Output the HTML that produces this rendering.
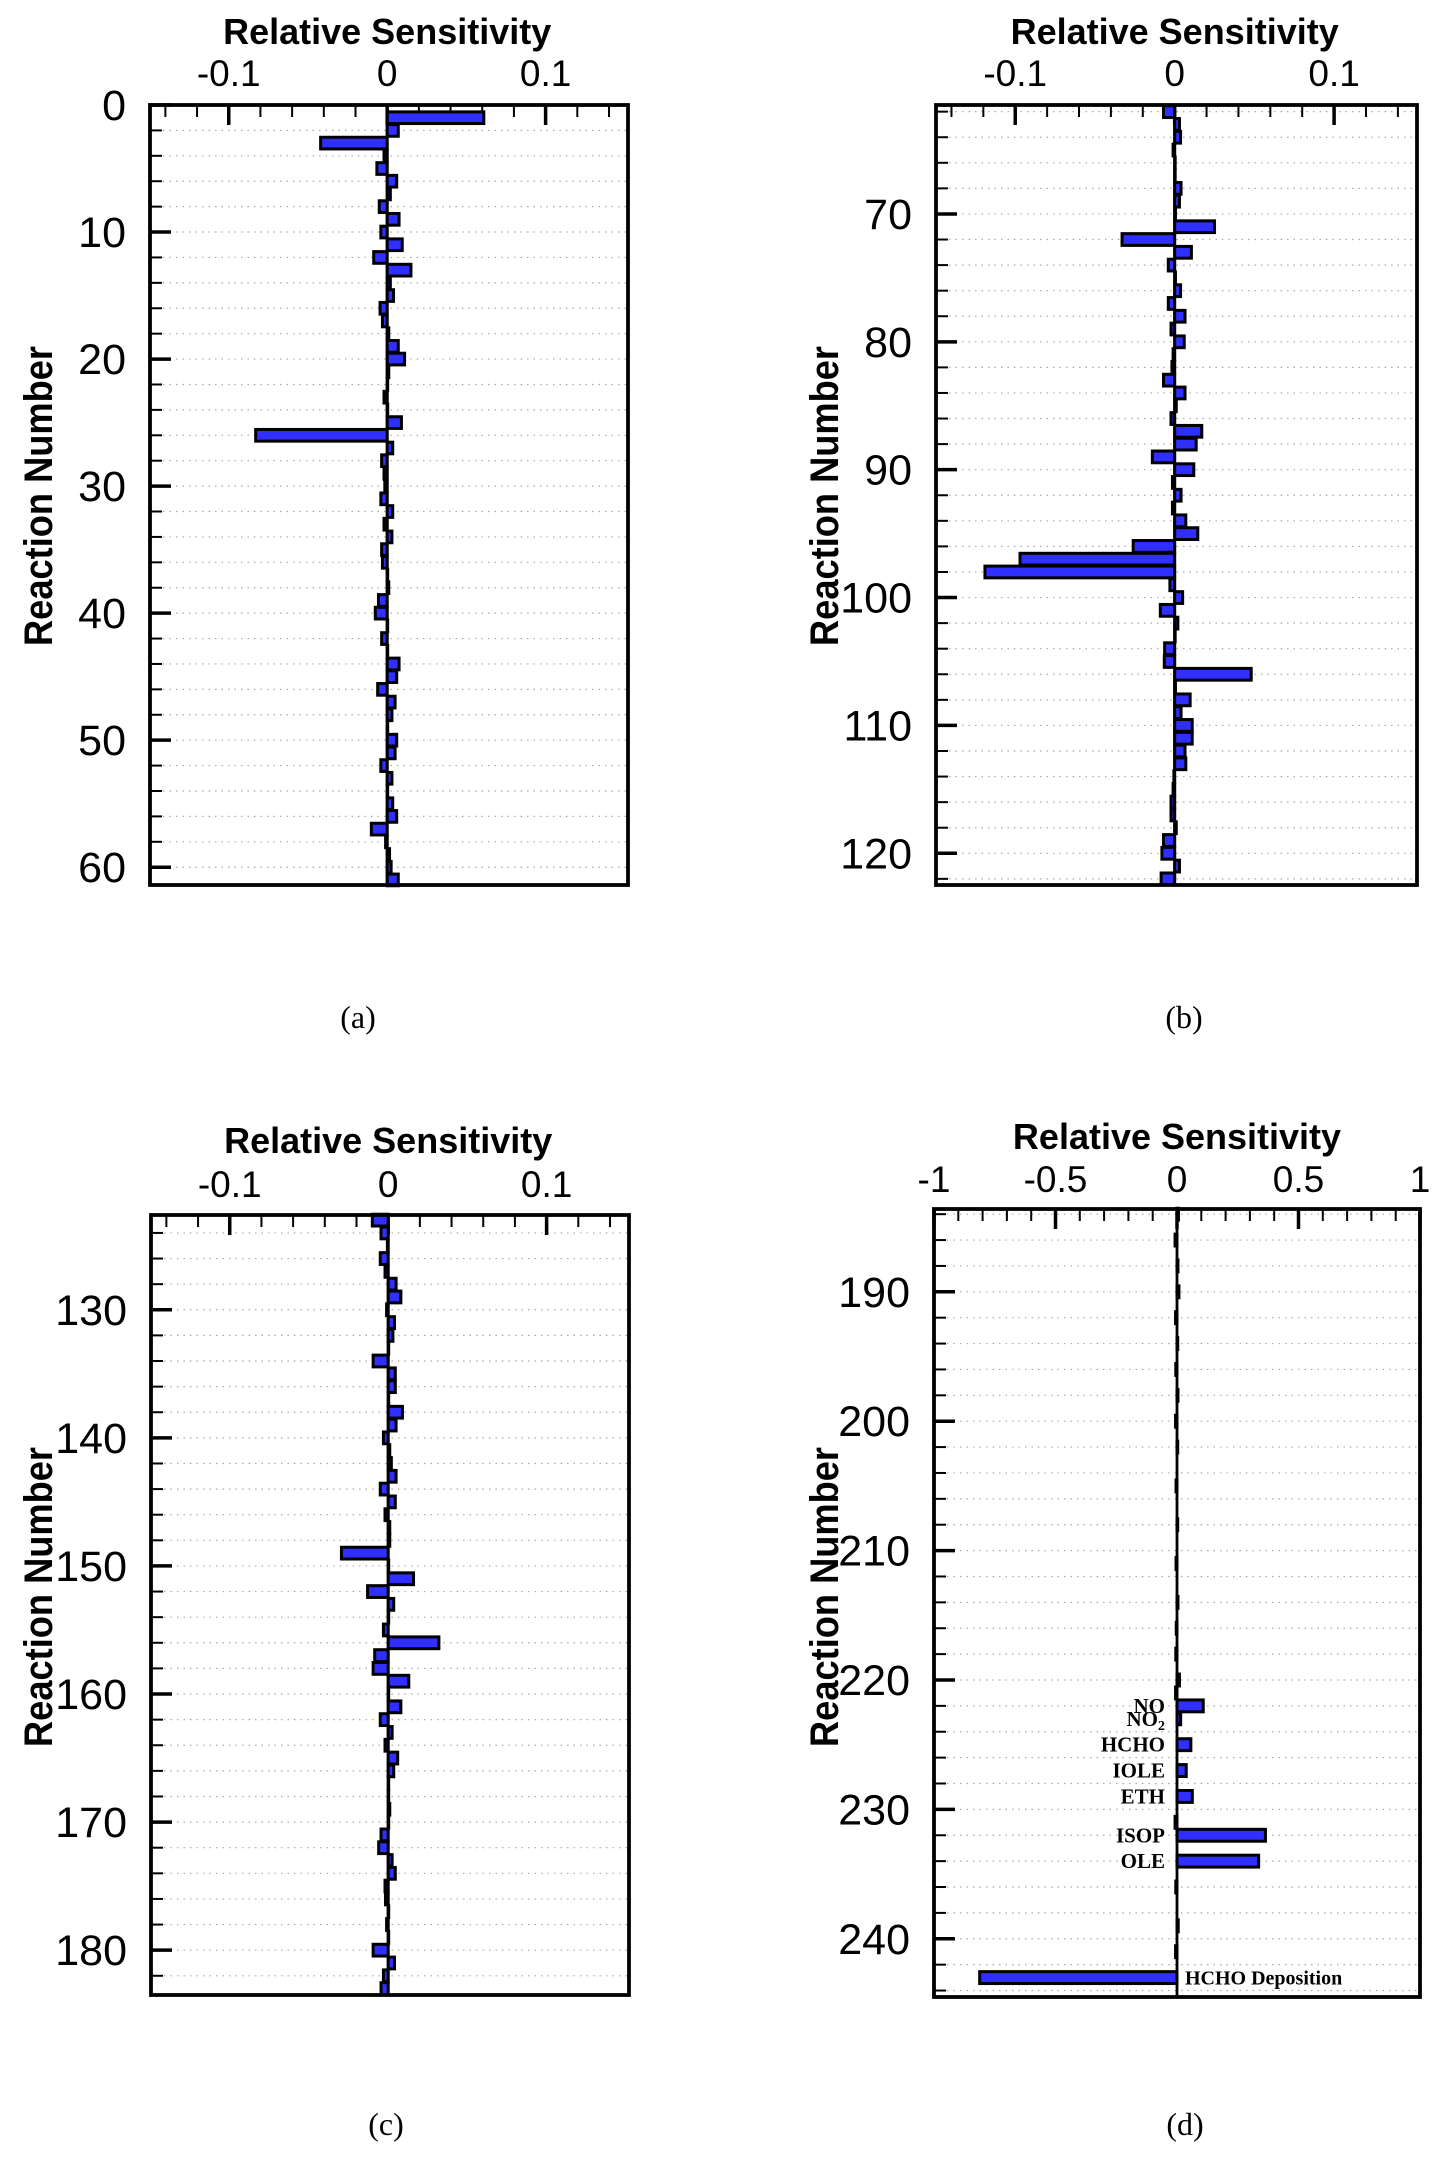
<!DOCTYPE html>
<html><head><meta charset="utf-8"><style>
html,body{margin:0;padding:0;background:#fff}
svg{display:block}
</style></head><body>
<svg id="fig" xmlns="http://www.w3.org/2000/svg" width="1439" height="2158" viewBox="0 0 1439 2158"></svg>
<script>
// ---- data ----
const reactionsA = [1,2,3,4,5,6,7,8,9,10,11,12,13,14,15,16,17,18,19,20,21,22,23,24,25,26,27,28,29,30,31,32,33,34,35,36,37,38,39,40,41,42,43,44,45,46,47,48,49,50,51,52,53,54,55,56,57,58,59,60,61];
const valuesA = [0.061,0.007,-0.042,-0.002,-0.0065,0.006,0.002,-0.005,0.0075,-0.004,0.0095,-0.0085,0.015,0.002,0.004,-0.0045,-0.003,0.001,0.007,0.011,0.001,0,-0.002,0,0.009,-0.083,0.0035,-0.0035,-0.002,-0.0015,-0.004,0.0035,-0.002,0.003,-0.0035,-0.003,0,0.001,-0.0055,-0.0075,0,-0.0035,0,0.0075,0.006,-0.006,0.005,0.003,0,0.006,0.005,-0.004,0.003,0,0.0035,0.006,-0.01,-0.001,0.0015,0.0025,0.007];
const reactionsB = [62,63,64,65,66,67,68,69,70,71,72,73,74,75,76,77,78,79,80,81,82,83,84,85,86,87,88,89,90,91,92,93,94,95,96,97,98,99,100,101,102,103,104,105,106,107,108,109,110,111,112,113,114,115,116,117,118,119,120,121,122];
const valuesB = [-0.007,0.003,0.0037,-0.001,0,0,0.004,0.003,0.0005,0.025,-0.033,0.0105,-0.004,0.0005,0.0037,-0.004,0.0065,-0.0023,0.006,-0.001,-0.0017,-0.007,0.0065,0.001,-0.0023,0.017,0.0135,-0.014,0.012,-0.0014,0.004,-0.0014,0.007,0.0145,-0.026,-0.097,-0.119,-0.003,0.005,-0.009,0.002,0,-0.0063,-0.0065,0.048,0.0005,0.0097,0.004,0.011,0.011,0.0065,0.007,-0.0005,-0.001,-0.0023,-0.0023,0.001,-0.007,-0.008,0.003,-0.0085];
const reactionsC = [123,124,125,126,127,128,129,130,131,132,133,134,135,136,137,138,139,140,141,142,143,144,145,146,147,148,149,150,151,152,153,154,155,156,157,158,159,160,161,162,163,164,165,166,167,168,169,170,171,172,173,174,175,176,177,178,179,180,181,182,183];
const valuesC = [-0.01,-0.0045,-0.0005,-0.005,-0.002,0.005,0.008,-0.001,0.004,0.003,0,-0.0095,0.0045,0.0045,0,0.009,0.005,-0.003,0.001,0.002,0.005,-0.005,0.0045,-0.002,0.001,0.001,-0.0295,0,0.016,-0.013,0.0035,0,-0.003,0.032,-0.0085,-0.0095,0.013,0,0.008,-0.005,0.0025,-0.002,0.006,0.0035,0,0,0.001,0,-0.0045,-0.006,0.0025,0.0045,-0.002,-0.0017,0,-0.001,0,-0.0095,0.004,-0.003,-0.0045];
const reactionsD = [184,186,188,190,192,194,196,198,200,202,205,208,211,214,216,218,220,221,222,223,225,227,229,231,232,234,236,239,241,243];
const valuesD = [0.006,-0.008,0.004,0.008,-0.006,0.003,-0.005,0.004,-0.006,0.003,-0.004,0.003,-0.004,0.004,-0.003,-0.005,0.01,-0.006,0.108,0.015,0.057,0.038,0.063,-0.008,0.364,0.336,-0.005,0.005,-0.006,-0.812];
const labelsD = {222:"NO",223:"NO2",225:"HCHO",227:"IOLE",229:"ETH",232:"ISOP",234:"OLE"};
const xTicksSmall = [-0.1,0,0.1];
const xTicksLarge = [-1,-0.5,0,0.5,1];
const xTickLabelsLarge = ["-1","-0.5","0","0.5","1"];

const NS="http://www.w3.org/2000/svg";
const svg=document.getElementById('fig');
function mk(tag,attrs,parent){const e=document.createElementNS(NS,tag);for(const k in attrs)e.setAttribute(k,attrs[k]);(parent||svg).appendChild(e);return e;}

const panels=[
 {id:'a',box:[150,105,628,885],x:[-0.1497,0.152],y:[0,61.4],cats:reactionsA,vals:valuesA,xt:xTicksSmall,xtl:["-0.1","0","0.1"],minor:0.02,cap:[358,1028],title:44,tick:86,rn:[38,496]},
 {id:'b',box:[936,105,1417,885],x:[-0.1497,0.152],y:[61.48,122.48],cats:reactionsB,vals:valuesB,xt:xTicksSmall,xtl:["-0.1","0","0.1"],minor:0.02,cap:[1184,1028],title:44,tick:86,rn:[824,496]},
 {id:'c',box:[151,1215,629,1995],x:[-0.1497,0.152],y:[122.6,183.5],cats:reactionsC,vals:valuesC,xt:xTicksSmall,xtl:["-0.1","0","0.1"],minor:0.02,cap:[386,2135],title:1153,tick:1197,rn:[38,1597]},
 {id:'d',box:[934,1209,1420,1997],x:[-1,1],y:[183.6,244.5],cats:reactionsD,vals:valuesD,xt:xTicksLarge,xtl:xTickLabelsLarge,minor:0.1,cap:[1185,2135],title:1149,tick:1192,rn:[824,1597]}
];

panels.forEach(p=>{
 const g=mk('g',{});
 
 
 const [L,T,R,B]=p.box;
 const sx=v=>L+(v-p.x[0])/(p.x[1]-p.x[0])*(R-L);
 const sy=v=>T+(v-p.y[0])/(p.y[1]-p.y[0])*(B-T);
 const y0=Math.ceil(p.y[0]/2)*2;
 for(let v=y0; v<=p.y[1]; v+=2){
  const yy=sy(v);
  const gl=mk('line',{x1:L,x2:R,y1:yy,y2:yy,stroke:'#aaa','stroke-width':1.2,'stroke-dasharray':'1.5 5'},g);
  
  
  const major=v%10===0;
  const tk=mk('line',{x1:L,x2:L+(major?21:12),y1:yy,y2:yy,stroke:'#000','stroke-width':major?3.5:2},g);
  
  
  if(major){
   const t=mk('text',{x:L-24,y:yy+15,'text-anchor':'end','font-family':'Liberation Sans, sans-serif','font-size':43},g);
   t.textContent=String(v);
   
   
  }
 }
 const s0=Math.ceil(p.x[0]/p.minor-1e-6);
 for(let i=s0;i*p.minor<=p.x[1]+1e-9;i++){
  const v=i*p.minor; const xx=sx(v);
  const major=p.xt.some(t=>Math.abs(t-v)<1e-9);
  const tk=mk('line',{x1:xx,x2:xx,y1:T,y2:T+(major?20:12),stroke:'#000','stroke-width':major?3.5:2},g);
  
  
 }
 p.xt.forEach((v,i)=>{
  const t=mk('text',{x:sx(v),y:p.tick,'text-anchor':'middle','font-family':'Liberation Sans, sans-serif','font-size':37},g);
  t.textContent=p.xtl[i];
  
  
 });
 const zl=mk('line',{x1:sx(0),x2:sx(0),y1:T,y2:B,stroke:'#000','stroke-width':2.8},g);
 
 
 const uh=(B-T)/(p.y[1]-p.y[0]);
 p.cats.forEach((c,i)=>{
  const v=p.vals[i];
  const x1=sx(Math.min(0,v)), x2=sx(Math.max(0,v));
  const yc=sy(c);
  const r=mk('rect',{x:x1,y:yc-uh*0.46,width:Math.max(x2-x1,0.5),height:uh*0.92,fill:'#2f2fff',stroke:'#000','stroke-width':3},g);
  
  
  if(p.id==='d' && labelsD[c]){
   const t=mk('text',{x:sx(0)-12,y:yc+7,'text-anchor':'end','font-family':'Liberation Serif, serif','font-weight':'bold','font-size':21},g);
   if(labelsD[c]==='NO2'){t.textContent='NO';const s=mk('tspan',{'font-size':14,dy:4},t);s.textContent='2';}
   else t.textContent=labelsD[c];
   
   
  }
  if(p.id==='d' && c===243){
   const t=mk('text',{x:sx(0)+8,y:yc+7,'font-family':'Liberation Serif, serif','font-weight':'bold','font-size':20},g);
   t.textContent='HCHO Deposition';
   
   
  }
 });
 const fr=mk('rect',{x:L,y:T,width:R-L,height:B-T,fill:'none',stroke:'#000','stroke-width':3.8},g);
 
 
 const tt=mk('text',{x:sx(0),y:p.title,'text-anchor':'middle','font-family':'Liberation Sans, sans-serif','font-weight':'bold','font-size':36},g);
 tt.textContent='Relative Sensitivity';
 
 
 const yt=mk('text',{x:0,y:0,'text-anchor':'middle','font-family':'Liberation Sans, sans-serif','font-weight':'bold','font-size':40,textLength:300,lengthAdjust:'spacingAndGlyphs',transform:`translate(${p.rn[0]+14},${p.rn[1]}) rotate(-90)`},g);
 yt.textContent='Reaction Number';
 
 
 const cp=mk('text',{x:p.cap[0],y:p.cap[1],'text-anchor':'middle','font-family':'Liberation Serif, serif','font-size':32},g);
 cp.textContent='('+p.id+')';
 
 
});
</script>
</body></html>
